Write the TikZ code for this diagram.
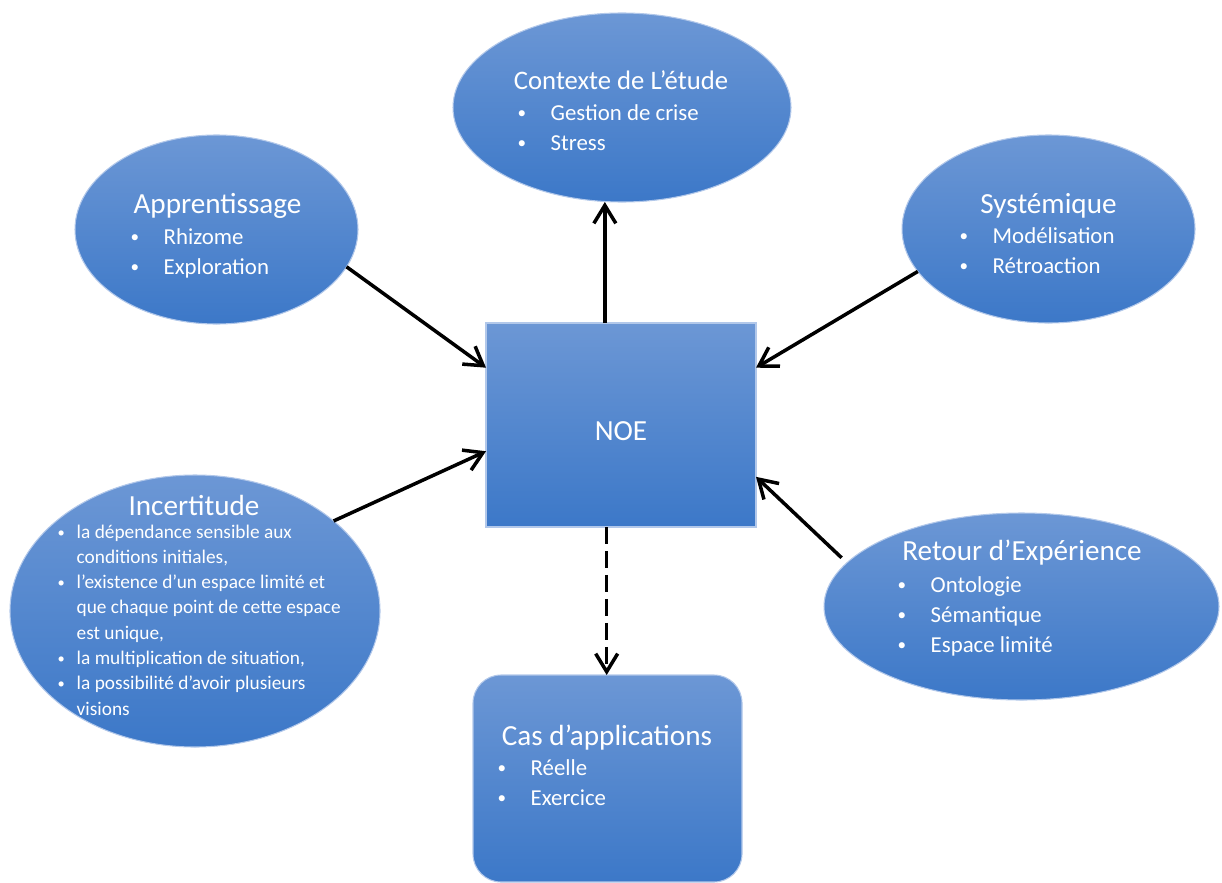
\documentclass[tikz,border=0pt]{standalone}
\usepackage{fontspec}
\setmainfont{Carlito}
\usetikzlibrary{arrows.meta,shapes.geometric,calc}

\newcommand\px{0.02cm}
\newcommand\rond{\raisebox{0.1ex}{\scalebox{0.75}{•}}}
\definecolor{bleuhaut}{RGB}{108,151,213}
\definecolor{bleubas}{RGB}{60,120,200}
\definecolor{bleubord}{RGB}{178,200,234}

\begin{document}
\begin{tikzpicture}[x=\px,y=-\px]
\tikzstyle{every path}=[thick]
\tikzstyle{bulle}=[ellipse,draw=bleubord,line width=0.6pt,top color=bleuhaut,bottom color=bleubas,inner sep=0pt,outer sep=0pt]
\tikzstyle{boite}=[rectangle,draw=bleubord,line width=0.6pt,top color=bleuhaut,bottom color=bleubas,inner sep=0pt,outer sep=0pt]
\tikzstyle{titre}=[anchor=base,text=white,inner sep=0pt,font=\fontsize{16.6}{19}\selectfont]
\tikzstyle{puce}=[anchor=base west,text=white,inner sep=0pt,font=\fontsize{13}{15}\selectfont,
  execute at begin node={\makebox[0.66cm][l]{\rond}}]
\tikzstyle{petite}=[anchor=base west,text=white,inner sep=0pt,font=\fontsize{11}{13}\selectfont]
\tikzstyle{petitepuce}=[petite,execute at begin node={\makebox[0.38cm][l]{\rond}}]
\tikzstyle{fleche}=[line width=2pt,-{Straight Barb[length=3.6mm,width=4.4mm,line width=2pt]}]

\useasboundingbox (0,0) rectangle (1222,882);

%% Shapes
\node [bulle,minimum width=338*\px,minimum height=189*\px] (ctx) at (622,107.5) {};
\node [bulle,minimum width=283*\px,minimum height=189*\px] (app) at (216.5,229.5) {};
\node [bulle,minimum width=293*\px,minimum height=188*\px] (sys) at (1048.5,229) {};
\node [bulle,minimum width=370*\px,minimum height=272*\px] (inc) at (195,611) {};
\node [bulle,minimum width=395*\px,minimum height=187*\px] (ret) at (1021.5,606.5) {};
\node [boite,minimum width=270*\px,minimum height=204*\px] (noe) at (621,425) {};
\node [boite,rounded corners=0.56cm,minimum width=269*\px,minimum height=207*\px] (cas) at (607.5,778.5) {};

%% Texts
\node [titre] (noe-t) at (621,440) {NOE};

\node [titre,font=\fontsize{15.2}{18}\selectfont] (ctx-t) at (621,90) {Contexte de L’étude};
\foreach \t [count=\i] in {Gestion de crise,Stress}
    \node [puce] (ctx-\i) at (517,{120+30*(\i-1)}) {\t};

\node [titre] (app-t) at (217.5,213) {Apprentissage};
\foreach \t [count=\i] in {Rhizome,Exploration}
    \node [puce] (app-\i) at (130,{244+30*(\i-1)}) {\t};

\node [titre] (sys-t) at (1048.5,213) {Systémique};
\foreach \t [count=\i] in {Modélisation,Rétroaction}
    \node [puce] (sys-\i) at (959,{243+30*(\i-1)}) {\t};

\node [titre] (ret-t) at (1022,560) {Retour d’Expérience};
\foreach \t [count=\i] in {Ontologie,Sémantique,Espace limité}
    \node [puce] (ret-\i) at (897,{592+30*(\i-1)}) {\t};

\node [titre] (cas-t) at (607,745) {Cas d’applications};
\foreach \t [count=\i] in {Réelle,Exercice}
    \node [puce] (cas-\i) at (497,{775+30*(\i-1)}) {\t};

\node [titre] (inc-t) at (194,515) {Incertitude};
\node [petitepuce] (inc-1) at (57,538) {la dépendance sensible aux};
\node [petite] (inc-2) at (76,563.3) {conditions initiales,};
\node [petitepuce] (inc-3) at (57,588.6) {l’existence d’un espace limité et};
\node [petite] (inc-4) at (76,613.9) {que chaque point de cette espace};
\node [petite] (inc-5) at (76,639.2) {est unique,};
\node [petitepuce] (inc-6) at (57,664.5) {la multiplication de situation,};
\node [petitepuce] (inc-7) at (57,689.8) {la possibilité d’avoir plusieurs};
\node [petite] (inc-8) at (76,715.1) {visions};

%% Arrows
\draw [fleche] (noe.99) -- (noe.99 |- ctx.south);
\draw [fleche] (app.-16) -- (noe.157);
\draw [fleche] (sys.-162) -- (noe.23);
\draw [fleche] (inc.33) -- (noe.191);
\draw [fleche] ($(ret.163)+(-14,2)$) -- (noe.-21);
\draw [fleche,dash pattern=on 0.34cm off 0.14cm] (noe.-98) -- (noe.-98 |- cas.north);

\end{tikzpicture}
\end{document}
